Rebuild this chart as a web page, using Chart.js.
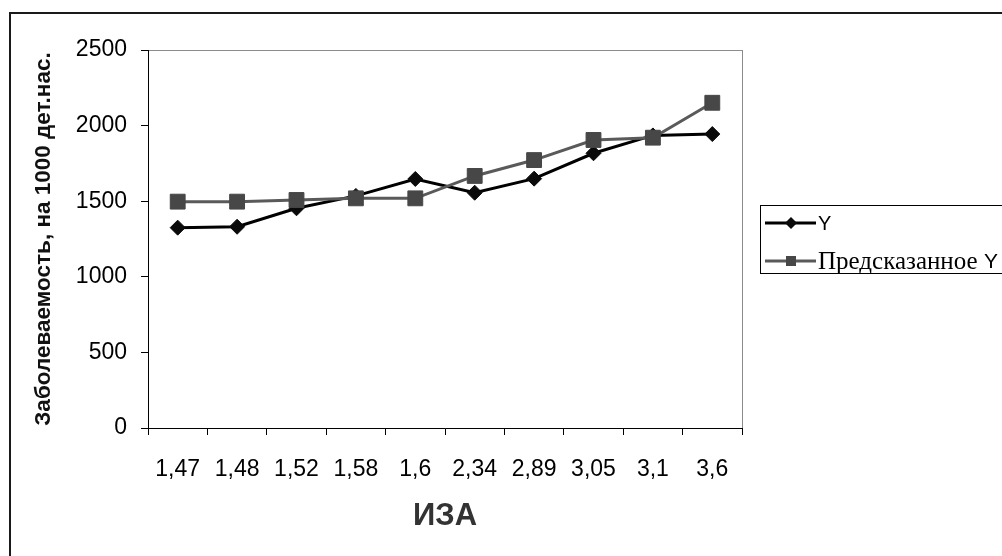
<!DOCTYPE html>
<html>
<head>
<meta charset="utf-8">
<script src="https://cdn.jsdelivr.net/npm/chart.js@4/dist/chart.umd.min.js"></script>
<style>
html, body { margin: 0; padding: 0; background: #fff; }
#wrap { position: relative; width: 1002px; height: 556px; overflow: hidden; }
canvas { display: block; }
</style>
</head>
<body>
<div id="wrap"><canvas id="c" width="1002" height="556"></canvas></div>
<script>
const categories = ['1,47', '1,48', '1,52', '1,58', '1,6', '2,34', '2,89', '3,05', '3,1', '3,6'];
const seriesY = [1325, 1331, 1453, 1535, 1647, 1556, 1649, 1817, 1935, 1944];
const seriesPredicted = [1497, 1497, 1508, 1519, 1519, 1667, 1772, 1905, 1920, 2151];
const yTicks = [0, 500, 1000, 1500, 2000, 2500];
const seriesNames = ['Y', 'Предсказанное'];
const xTitle = 'ИЗА';
const yTitle = 'Заболеваемость, на 1000 дет.нас.';

const SANS = "'Liberation Sans', Arial, sans-serif";
const SERIF = "'Liberation Serif', 'Times New Roman', serif";

const framePlugin = {
  id: 'frame',
  beforeDraw(chart) {
    const ctx = chart.ctx;
    const a = chart.chartArea;
    ctx.save();
    ctx.strokeStyle = '#1a1a1a';
    ctx.lineWidth = 2;
    ctx.strokeRect(10, 13, 1100, 700);
    ctx.strokeStyle = '#8c8c8c';
    ctx.lineWidth = 1;
    ctx.strokeRect(Math.round(a.left) + 0.5, Math.round(a.top) + 0.5, Math.round(a.right - a.left), Math.round(a.bottom - a.top));
    ctx.restore();
  },
  afterDraw(chart) {
    const ctx = chart.ctx;
    ctx.save();
    ctx.strokeStyle = '#000';
    ctx.lineWidth = 1;
    ctx.strokeRect(760.5, 205.5, 300, 68);
    const ds = chart.data.datasets;
    const rows = [223, 261];
    ds.forEach((d, i) => {
      const y = rows[i];
      ctx.strokeStyle = d.borderColor;
      ctx.lineWidth = 3;
      ctx.beginPath();
      ctx.moveTo(765, y);
      ctx.lineTo(816, y);
      ctx.stroke();
      ctx.fillStyle = d.pointBackgroundColor;
      ctx.beginPath();
      if (i === 0) {
        ctx.moveTo(785, y); ctx.lineTo(791, y - 6); ctx.lineTo(797, y); ctx.lineTo(791, y + 6);
        ctx.closePath();
      } else {
        ctx.rect(786, y - 5, 10, 10);
      }
      ctx.fill();
      ctx.fillStyle = '#000';
      ctx.textBaseline = 'middle';
      ctx.textAlign = 'left';
      if (i === 0) {
        ctx.font = '20px ' + SANS;
        ctx.fillText('Y', 818, y + 1);
      } else {
        ctx.font = '25px ' + SERIF;
        const t = seriesNames[1] + ' ';
        ctx.fillText(t, 818, y + 1);
        const w = ctx.measureText(t).width;
        ctx.font = '21px ' + SANS;
        ctx.fillText('Y', 818 + w, y + 1);
      }
    });
    ctx.restore();
  }
};

new Chart(document.getElementById('c'), {
  type: 'line',
  data: {
    labels: categories,
    datasets: [
      {
        label: seriesNames[0],
        data: seriesY,
        borderColor: '#000000',
        backgroundColor: '#000000',
        pointBackgroundColor: '#0a0a0a',
        pointBorderColor: '#0a0a0a',
        pointStyle: 'rectRot',
        pointRadius: 7.5,
        pointHoverRadius: 7.5,
        pointBorderWidth: 1,
        borderWidth: 3,
        tension: 0,
        order: 1
      },
      {
        label: seriesNames[1] + ' Y',
        data: seriesPredicted,
        borderColor: '#5a5a5a',
        backgroundColor: '#474747',
        pointBackgroundColor: '#474747',
        pointBorderColor: '#474747',
        pointStyle: 'rect',
        pointRadius: 10.5,
        pointHoverRadius: 10.5,
        pointBorderWidth: 1,
        borderWidth: 3,
        tension: 0,
        order: 0
      }
    ]
  },
  options: {
    responsive: false,
    animation: false,
    events: [],
    layout: { padding: { left: 20, right: 260, top: 50, bottom: 0 } },
    plugins: { legend: { display: false }, tooltip: { enabled: false } },
    scales: {
      x: {
        offset: true,
        grid: { display: true, offset: true, drawOnChartArea: false, drawTicks: true, tickLength: 7, color: '#000' },
        border: { display: true, color: '#000', width: 1 },
        ticks: { color: '#000', font: { family: SANS, size: 23 }, padding: 21, maxRotation: 0, autoSkip: false },
        title: { display: true, text: xTitle, color: '#333', font: { family: SANS, size: 31, weight: 'bold' }, padding: { top: 0, bottom: 21 } },
        afterFit(s) { s.height = 128; }
      },
      y: {
        min: yTicks[0],
        max: yTicks[yTicks.length - 1],
        afterBuildTicks(s) { s.ticks = yTicks.map(v => ({ value: v })); },
        grid: { display: true, drawOnChartArea: false, drawTicks: true, tickLength: 7, color: '#000' },
        border: { display: true, color: '#000', width: 1 },
        ticks: { color: '#000', font: { family: SANS, size: 23 }, padding: 14, callback: v => String(v) },
        title: { display: true, text: yTitle, color: '#111', font: { family: SANS, size: 22.5, weight: 'bold' }, padding: { top: 10, bottom: 0 } },
        afterFit(s) { s.width = 128; }
      }
    }
  },
  plugins: [framePlugin]
});
</script>
</body>
</html>
